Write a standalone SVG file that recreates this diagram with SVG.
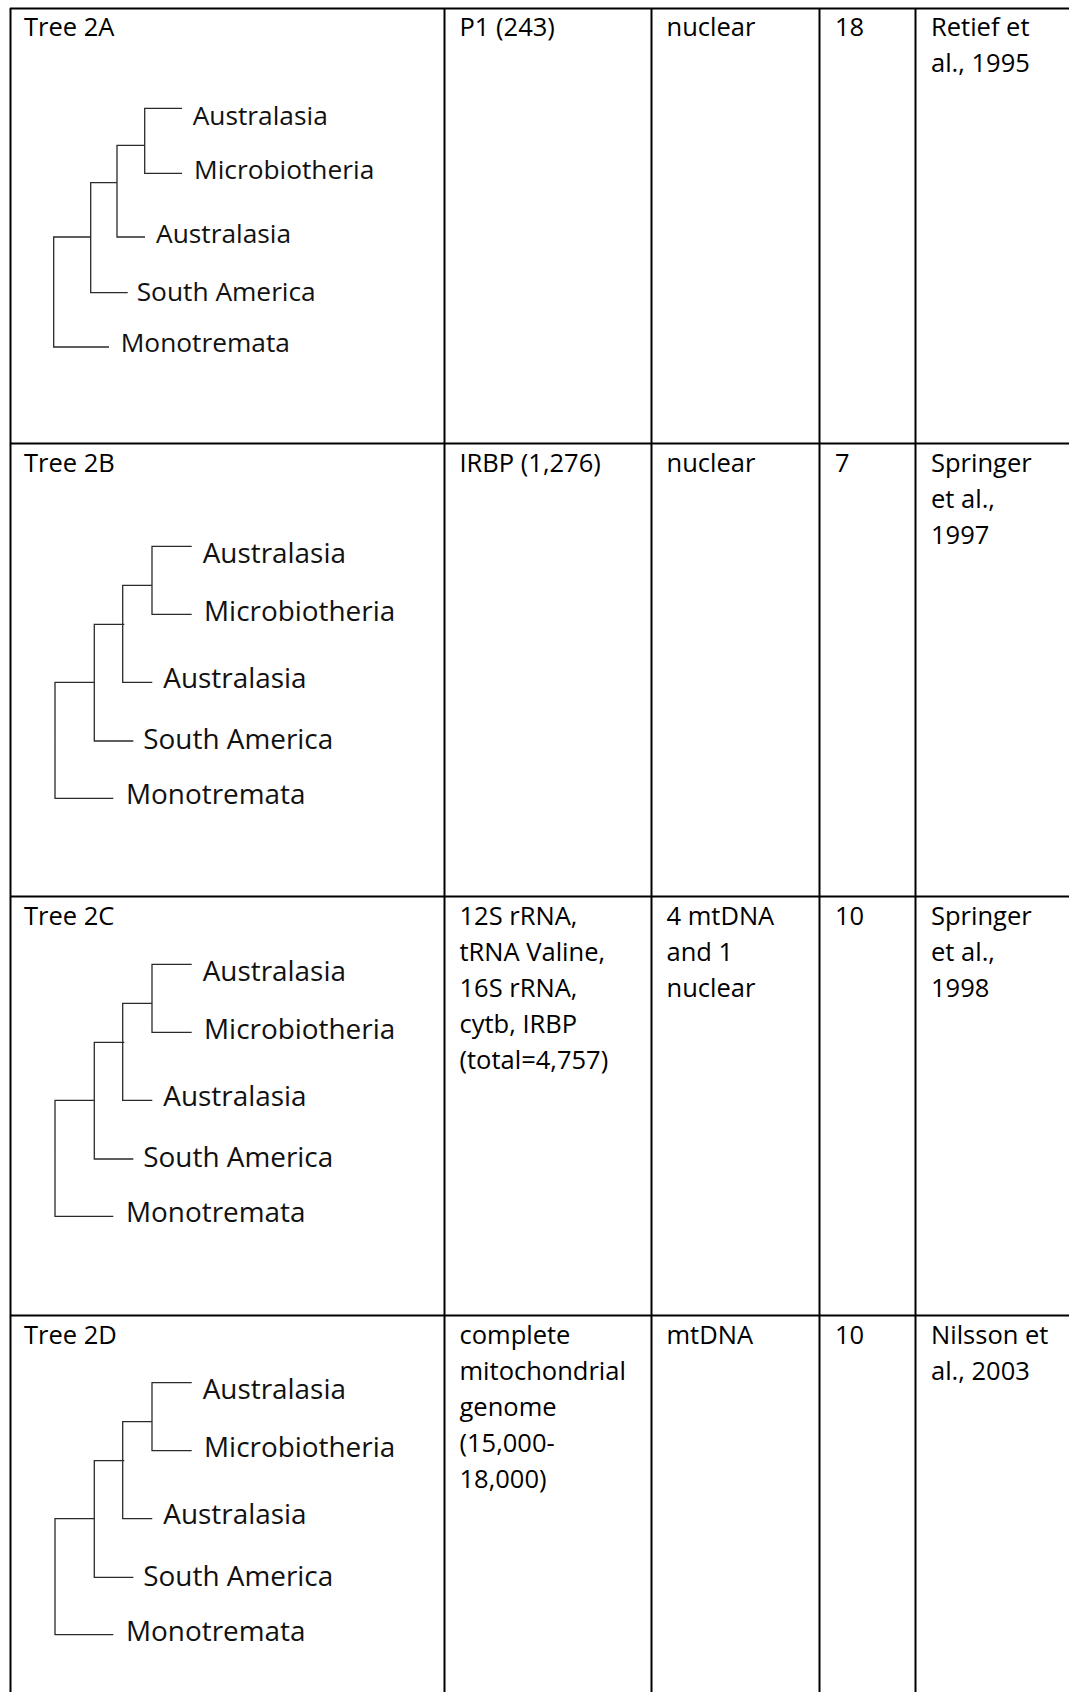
<svg xmlns="http://www.w3.org/2000/svg" width="1069" height="1692" viewBox="0 0 1069 1692">
<style>
.grid{stroke:#000;stroke-width:2;fill:none}
.br{stroke:#2a2a2a;stroke-width:1.3;fill:none}
.t{font-family:"Open Sans","Noto Sans","Liberation Sans",sans-serif;font-size:25.5px;fill:#000}
.la{font-family:"Open Sans","Noto Sans","Liberation Sans",sans-serif;font-size:26.3px;fill:#111}
.lb{font-family:"Open Sans","Noto Sans","Liberation Sans",sans-serif;font-size:27.9px;fill:#111}
</style>
<defs>
<g id="treeB">
<path class="br" d="M94.3,136 H55 V252 H113.3 M124.3,78 H94.3 V194.7 H133.3 M152,39 H122.7 V136 H152.3 M191.7,0 H152 V68 H191.7"/>
<text class="lb" x="202.7" y="16.5">Australasia</text>
<text class="lb" x="204" y="74.5">Microbiotheria</text>
<text class="lb" x="163.3" y="141.3">Australasia</text>
<text class="lb" x="143.3" y="203">South America</text>
<text class="lb" x="126" y="258.2">Monotremata</text>
</g>
</defs>
<rect width="1069" height="1692" fill="#fff"/>
<g id="table-grid">
<path class="grid" d="M10,8.5 H1069 M10,443.5 H1069 M10,896.5 H1069 M10,1315.5 H1069 M10.5,8 V1692 M444.5,8 V1692 M651.5,8 V1692 M819.5,8 V1692 M915.5,8 V1692"/>
</g>
<g id="row-2A">
<text class="t" x="24" y="36">Tree 2A</text>
<g id="tree-2A">
<path class="br" d="M90.7,237 H53.7 V347 H109 M117.3,182.7 H90.7 V292.7 H127.7 M144.7,145.3 H117 V237 H145 M182,108.3 H144.7 V173.3 H182"/>
<text class="la" x="192.7" y="125">Australasia</text>
<text class="la" x="194" y="179">Microbiotheria</text>
<text class="la" x="156" y="243">Australasia</text>
<text class="la" x="136.7" y="300.7">South America</text>
<text class="la" x="120.7" y="352.3">Monotremata</text>
</g>
<text class="t" x="459.5" y="36">P1 (243)</text>
<text class="t" x="666.5" y="36">nuclear</text>
<text class="t" x="835" y="36">18</text>
<text class="t" x="931"><tspan x="931" y="36">Retief et</tspan><tspan x="931" y="72">al., 1995</tspan></text>
</g>
<g id="row-2B">
<text class="t" x="24" y="472">Tree 2B</text>
<use id="tree-2B" href="#treeB" transform="translate(0,546.3)"/>
<text class="t" x="459.5" y="472">IRBP (1,276)</text>
<text class="t" x="666.5" y="472">nuclear</text>
<text class="t" x="835" y="472">7</text>
<text class="t" x="931"><tspan x="931" y="472">Springer</tspan><tspan x="931" y="508">et al.,</tspan><tspan x="931" y="544">1997</tspan></text>
</g>
<g id="row-2C">
<text class="t" x="24" y="925">Tree 2C</text>
<use id="tree-2C" href="#treeB" transform="translate(0,964.3)"/>
<text class="t" x="459.5"><tspan x="459.5" y="925">12S rRNA,</tspan><tspan x="459.5" y="961">tRNA Valine,</tspan><tspan x="459.5" y="997">16S rRNA,</tspan><tspan x="459.5" y="1033">cytb, IRBP</tspan><tspan x="459.5" y="1069">(total=4,757)</tspan></text>
<text class="t" x="666.5"><tspan x="666.5" y="925">4 mtDNA</tspan><tspan x="666.5" y="961">and 1</tspan><tspan x="666.5" y="997">nuclear</tspan></text>
<text class="t" x="835" y="925">10</text>
<text class="t" x="931"><tspan x="931" y="925">Springer</tspan><tspan x="931" y="961">et al.,</tspan><tspan x="931" y="997">1998</tspan></text>
</g>
<g id="row-2D">
<text class="t" x="24" y="1344">Tree 2D</text>
<use id="tree-2D" href="#treeB" transform="translate(0,1382.7)"/>
<text class="t" x="459.5"><tspan x="459.5" y="1344">complete</tspan><tspan x="459.5" y="1380">mitochondrial</tspan><tspan x="459.5" y="1416">genome</tspan><tspan x="459.5" y="1452">(15,000-</tspan><tspan x="459.5" y="1488">18,000)</tspan></text>
<text class="t" x="666.5" y="1344">mtDNA</text>
<text class="t" x="835" y="1344">10</text>
<text class="t" x="931"><tspan x="931" y="1344">Nilsson et</tspan><tspan x="931" y="1380">al., 2003</tspan></text>
</g>
</svg>
